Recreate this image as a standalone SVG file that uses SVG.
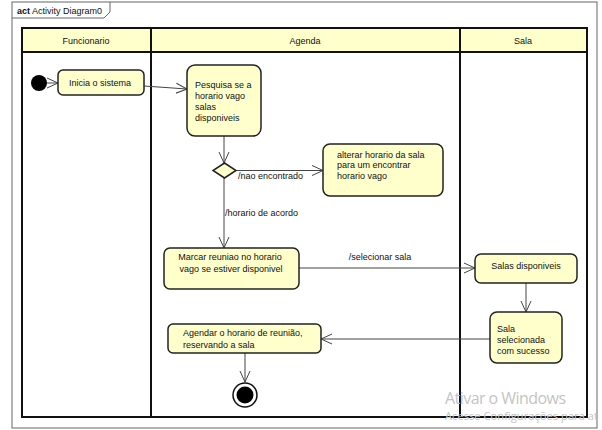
<svg xmlns="http://www.w3.org/2000/svg" width="602" height="430" viewBox="0 0 602 430">
  <style>
    text { font-family: "Liberation Sans", Arial, sans-serif; font-size: 9px; fill: #111; }
    .node { fill: #ffffcc; stroke: #222; stroke-width: 1.5; }
    .lane { fill: none; stroke: #111; stroke-width: 2; }
    .head { fill: #ffffcc; stroke: #111; stroke-width: 2; }
    .flow { fill: none; stroke: #444; stroke-width: 1; marker-end: url(#open); }
    .mid { text-anchor: middle; }
    .wm { font-family: "Open Sans", "Noto Sans", sans-serif; fill: #c4c4c4; }
  </style>
  <defs>
    <marker id="open" viewBox="0 0 12 12" refX="11" refY="6" markerWidth="12" markerHeight="12" markerUnits="userSpaceOnUse" orient="auto">
      <path d="M0,1 L11,6 L0,11" fill="none" stroke="#444" stroke-width="1"/>
    </marker>
  </defs>
  <rect width="602" height="430" fill="#ffffff"/>

  <!-- diagram frame -->
  <g id="frame">
    <rect x="12" y="2" width="585" height="426" fill="none" stroke="#666" stroke-width="1"/>
    <path d="M12,18 L104,18 L110,12 L110,2" fill="none" stroke="#666" stroke-width="1"/>
    <text x="17" y="14"><tspan font-weight="bold">act</tspan> Activity Diagram0</text>
  </g>

  <!-- swimlanes -->
  <g id="lanes">
    <rect class="head" x="22" y="28" width="565" height="24"/>
    <rect class="lane" x="22" y="28" width="565" height="389"/>
    <line class="lane" x1="151" y1="28" x2="151" y2="417"/>
    <line class="lane" x1="460" y1="28" x2="460" y2="417"/>
    <text class="mid" x="86" y="44">Funcionario</text>
    <text class="mid" x="305" y="44">Agenda</text>
    <text class="mid" x="523" y="44">Sala</text>
  </g>

  <!-- connectors -->
  <g id="connectors">
    <line class="flow" x1="47" y1="83" x2="58" y2="83"/>
    <line class="flow" x1="144" y1="86" x2="187" y2="89"/>
    <line class="flow" x1="224" y1="136" x2="224" y2="163"/>
    <line class="flow" x1="236" y1="170.5" x2="323" y2="170.5"/>
    <line class="flow" x1="224" y1="178" x2="224" y2="248"/>
    <line class="flow" x1="299" y1="268" x2="475" y2="268"/>
    <line class="flow" x1="526" y1="283" x2="526" y2="312"/>
    <line class="flow" x1="490" y1="339" x2="321" y2="339"/>
    <line class="flow" x1="245" y1="353" x2="245" y2="382"/>
    <text x="238" y="179">/nao encontrado</text>
    <text x="225" y="216">/horario de acordo</text>
    <text class="mid" x="380" y="260">/selecionar sala</text>
  </g>

  <!-- nodes -->
  <g id="start">
    <circle cx="39" cy="83" r="8" fill="#000"/>
  </g>
  <g id="inicia">
    <rect class="node" x="58" y="70" width="86" height="25" rx="5"/>
    <text x="69" y="86">Inicia o sistema</text>
  </g>
  <g id="pesquisa">
    <rect class="node" x="187" y="65" width="74" height="71" rx="8"/>
    <text x="195" y="88">Pesquisa se a</text>
    <text x="195" y="99">horario vago</text>
    <text x="195" y="110">salas</text>
    <text x="195" y="121">disponiveis</text>
  </g>
  <g id="decisao">
    <path d="M224.5,163 L236,170.5 L224.5,178 L213,170.5 Z" fill="#ffffcc" stroke="#222" stroke-width="1.5"/>
  </g>
  <g id="alterar">
    <rect class="node" x="323" y="144" width="120" height="52" rx="7"/>
    <text x="337" y="158">alterar horario da sala</text>
    <text x="337" y="168">para um encontrar</text>
    <text x="337" y="179">horario vago</text>
  </g>
  <g id="marcar">
    <rect class="node" x="164" y="248" width="135" height="41" rx="6"/>
    <text class="mid" x="230" y="260">Marcar reuniao no horario</text>
    <text class="mid" x="231" y="272">vago se estiver disponivel</text>
  </g>
  <g id="salas-disponiveis">
    <rect class="node" x="475" y="254" width="102" height="29" rx="6"/>
    <text class="mid" x="526" y="269">Salas disponiveis</text>
  </g>
  <g id="sala-selecionada">
    <rect class="node" x="490" y="312" width="72" height="51" rx="7"/>
    <text x="497" y="332">Sala</text>
    <text x="497" y="343">selecionada</text>
    <text x="497" y="354">com sucesso</text>
  </g>
  <g id="agendar">
    <rect class="node" x="168" y="324" width="153" height="29" rx="5"/>
    <text x="183" y="336">Agendar o horario de reunião,</text>
    <text x="183" y="348">reservando a sala</text>
  </g>
  <g id="fim">
    <circle cx="245" cy="395" r="12" fill="#fff" stroke="#111" stroke-width="1.5"/>
    <circle cx="245" cy="395" r="8.5" fill="#000"/>
  </g>

  <!-- system watermark -->
  <g id="watermark">
    <text class="wm" x="445" y="404" style="font-size:16px" textLength="121">Ativar o Windows</text>
    <text class="wm" x="445" y="420" style="font-size:11px" textLength="153">Acesse Configurações para at</text>
  </g>
</svg>
